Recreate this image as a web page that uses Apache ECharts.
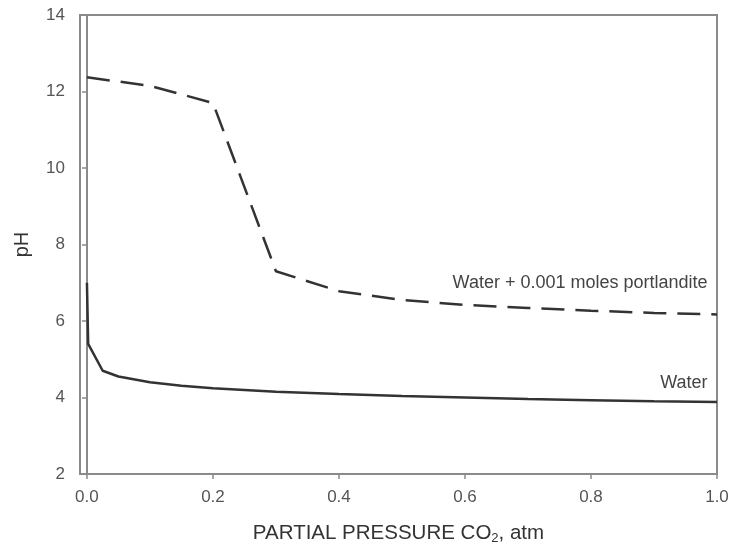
<!DOCTYPE html>
<html><head><meta charset="utf-8">
<script src="https://cdn.jsdelivr.net/npm/echarts@6/dist/echarts.min.js"></script>
<style>html,body{margin:0;padding:0;background:#fff}#c{width:729px;height:551px}</style>
</head><body><div id="c"></div>
<script>
const waterX = [0.0, 0.002, 0.025, 0.05, 0.1, 0.15, 0.2, 0.3, 0.4, 0.5, 0.6, 0.7, 0.8, 0.9, 1.0];
const waterPH = [7.0, 5.4, 4.7, 4.55, 4.4, 4.31, 4.24, 4.15, 4.09, 4.04, 4.0, 3.96, 3.93, 3.9, 3.88];
const portX = [0.0, 0.1, 0.2, 0.3, 0.4, 0.5, 0.6, 0.7, 0.8, 0.9, 1.0];
const portPH = [12.37, 12.15, 11.7, 7.3, 6.78, 6.55, 6.42, 6.34, 6.27, 6.21, 6.17];
const xTicks = [0.0, 0.2, 0.4, 0.6, 0.8, 1.0];
const yTicks = [2, 4, 6, 8, 10, 12, 14];
const labelPort = 'Water + 0.001 moles portlandite';
const labelWater = 'Water';

const chart = echarts.init(document.getElementById('c'));
const font = "Liberation Sans, Arial, sans-serif";
chart.setOption({
  animation: false,
  grid: {left: 80, right: 12, top: 15, bottom: 77, outerBoundsMode: 'none', containLabel: false,
    show: true, borderColor: '#8a8a8a', borderWidth: 2, backgroundColor: 'transparent'},
  xAxis: {
    type: 'value', min: -0.011, max: 1.0,
    name: '{a|PARTIAL PRESSURE CO}{s|2}{a|, atm}', nameLocation: 'middle', nameGap: 48,
    nameTextStyle: {rich: {a: {fontFamily: font, fontSize: 20.5, color: '#333'}, s: {fontFamily: font, fontSize: 13, color: '#333', verticalAlign: 'bottom', padding: [10,0,0,0]}}},
    axisLine: {show: true, onZero: false, lineStyle: {color: '#8a8a8a', width: 2}},
    axisTick: {show: true, length: 5, lineStyle: {color: '#8a8a8a', width: 1.5},
      customValues: xTicks},
    axisLabel: {fontFamily: font, fontSize: 17, color: '#555', margin: 15,
      customValues: xTicks, formatter: v => v.toFixed(1)},
    splitLine: {show: false}
  },
  yAxis: {
    type: 'value', min: 2, max: 14, interval: 2,
    name: 'pH', nameLocation: 'middle', nameGap: 48,
    nameTextStyle: {fontFamily: font, fontSize: 20, color: '#333'},
    axisLine: {show: true, lineStyle: {color: '#8a8a8a', width: 2}},
    axisTick: {show: true, length: 5, lineStyle: {color: '#8a8a8a', width: 1.5}},
    axisLabel: {fontFamily: font, fontSize: 17, color: '#555', margin: 15},
    splitLine: {show: false}
  },
  series: [
    {
      type: 'line', data: [], z: 1,
      markLine: {silent: true, z: 0, symbol: 'none', label: {show: false},
        lineStyle: {color: '#b0b0b0', type: [1, 2], width: 1},
        data: [{xAxis: 0}]}
    },
    {
      type: 'line', name: labelWater, data: waterX.map((x, i) => [x, waterPH[i]]), z: 3,
      showSymbol: false, symbol: 'none', lineStyle: {color: '#333', width: 2.5},
      markPoint: {symbol: 'circle', symbolSize: 0,
        data: [{coord: [0.985, 4.37], value: labelWater}],
        label: {show: true, position: 'inside', align: 'right', verticalAlign: 'middle', formatter: labelWater,
          fontFamily: font, fontSize: 18, color: '#444'}}
    },
    {
      type: 'line', name: labelPort, data: portX.map((x, i) => [x, portPH[i]]), z: 3,
      showSymbol: false, symbol: 'none', lineStyle: {color: '#333', width: 2.5, type: [23, 11]},
      markPoint: {symbol: 'circle', symbolSize: 0,
        data: [{coord: [0.985, 7.0], value: labelPort}],
        label: {show: true, position: 'inside', align: 'right', verticalAlign: 'middle', formatter: labelPort,
          fontFamily: font, fontSize: 18, color: '#444'}}
    }
  ]
});
</script></body></html>
